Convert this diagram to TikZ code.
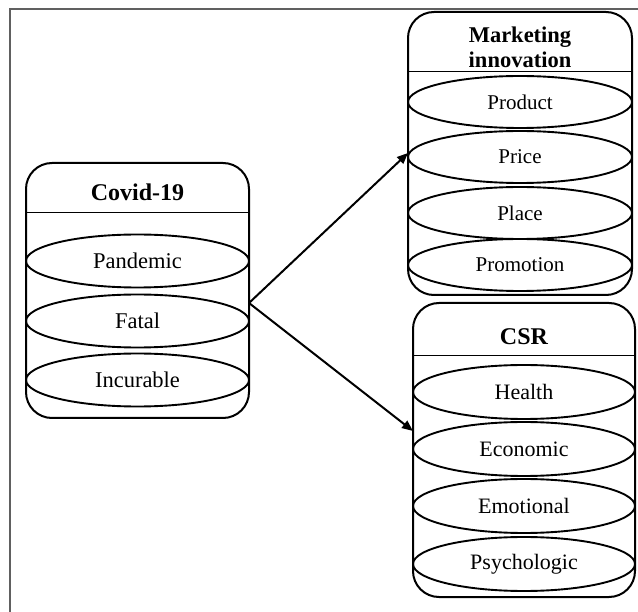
\documentclass[tikz,border=0pt]{standalone}
\usepackage{fontspec}
\setmainfont{Liberation Serif}
\usetikzlibrary{arrows.meta,shapes.geometric}
\definecolor{framegray}{HTML}{606060}
\begin{document}
\begin{tikzpicture}[x=1pt,y=-1pt,
  box/.style={draw,line width=2pt,rounded corners=26pt,inner sep=0pt,rectangle},
  item/.style={draw,ellipse,line width=1.9pt,inner sep=0pt,minimum height=53pt},
  hdr/.style={line width=1pt},
  ttl/.style={font=\fontsize{24}{26}\selectfont\bfseries,align=center,inner sep=0pt},
  arr/.style={line width=2pt,-{Triangle[length=11pt,width=9pt]}}]
\useasboundingbox (0,0) rectangle (638,612);
\draw[framegray,line width=2pt] (10,612) -- (10,9) -- (638,9);

% Covid-19
\node[box,minimum width=223pt,minimum height=255pt] (covid) at (137.5,290.5) {};
\draw[hdr] (26,213) -- (249,213);
\node[ttl] (covidt) at (137.5,192) {Covid-19};
\begin{scope}[every node/.append style={item,minimum width=223pt,font=\fontsize{22.5}{25}\selectfont}]
\node (pand) at (137.5,261) {Pandemic};
\node (fatal) at (137.5,321) {Fatal};
\node (incur) at (137.5,380) {Incurable};
\end{scope}

% Marketing innovation
\node[box,minimum width=224pt,minimum height=283pt] (mkt) at (520,153.5) {};
\draw[hdr] (408,72) -- (632,72);
\node[ttl,font=\fontsize{22.5}{25}\selectfont\bfseries] (mktt) at (520,47) {Marketing\\innovation};
\begin{scope}[every node/.append style={item,minimum width=224pt,minimum height=52pt,font=\fontsize{21}{24}\selectfont}]
\node (prod) at (520,102) {Product};
\node (price) at (520,157) {Price};
\node (place) at (520,213) {Place};
\node (promo) at (520,265) {Promotion};
\end{scope}

% CSR
\node[box,minimum width=222pt,minimum height=294pt] (csr) at (524,450) {};
\draw[hdr] (413,356) -- (635,356);
\node[ttl] (csrt) at (524,337) {CSR};
\begin{scope}[every node/.append style={item,minimum width=222pt,minimum height=54pt,font=\fontsize{22}{25}\selectfont}]
\node (health) at (524,392) {Health};
\node (econ) at (524,449) {Economic};
\node (emot) at (524,506) {Emotional};
\node (psych) at (524,564) {Psychologic};
\end{scope}

% connectors
\coordinate (src) at (249,303);
\coordinate (t1) at (408,153);
\coordinate (t2) at (413,431);
\draw[arr] (src) -- (t1);
\draw[arr] (src) -- (t2);
\end{tikzpicture}
\end{document}
